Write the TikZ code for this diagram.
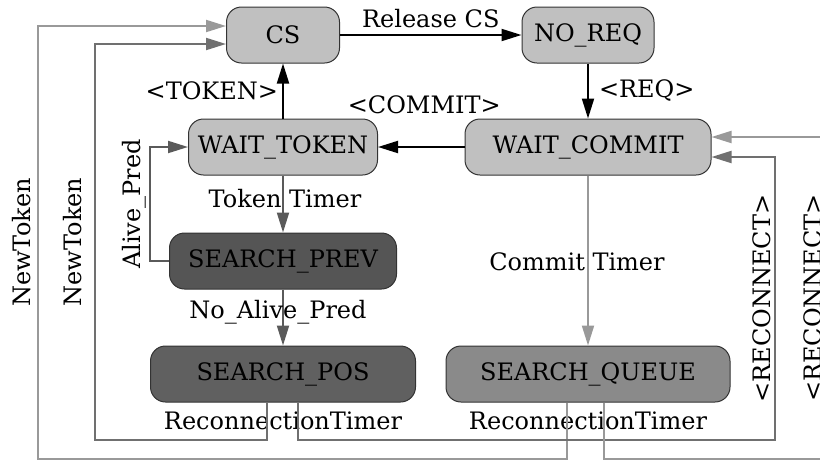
\documentclass[tikz,border=0pt]{standalone}
\usepackage{fontspec}
\setmainfont{DejaVu Serif}
\usetikzlibrary{arrows.meta,positioning}

\definecolor{stlight}{HTML}{C0C0C0}
\definecolor{stprev}{HTML}{555555}
\definecolor{stpos}{HTML}{606060}
\definecolor{stqueue}{HTML}{8A8A8A}
\definecolor{trdark}{HTML}{5A5A5A}
\definecolor{trmid}{HTML}{707070}
\definecolor{trlight}{HTML}{999999}

\begin{document}
\begin{tikzpicture}[x=1pt, y=-1pt,
  state/.style={rectangle, draw=black!80, line width=1pt, rounded corners=15pt,
    minimum height=56pt, inner sep=0pt, font=\fontsize{24}{28}\selectfont},
  lbl/.style={font=\fontsize{24}{28}\selectfont, text=black, inner sep=2pt},
  vlbl/.style={lbl, pos=0.25, rotate=90, above},
  trans/.style={line width=2pt, -{Triangle[length=20pt, width=12pt]}}]

\useasboundingbox (0,0) rectangle (820,464);
\clip (0,0) rectangle (820,464);

% states
\node[state, fill=stlight, minimum width=113pt] (cs) at (283,35) {CS};
\node[state, fill=stlight, minimum width=132pt] (noreq) at (588,35) {NO\_REQ};
\node[state, fill=stlight, minimum width=189pt] (waittoken) at (283,147) {WAIT\_TOKEN};
\node[state, fill=stlight, minimum width=246pt] (waitcommit) at (588,147) {WAIT\_COMMIT};
\node[state, fill=stprev, minimum width=227pt] (searchprev) at (283,261) {SEARCH\_PREV};
\node[state, fill=stpos, minimum width=265pt] (searchpos) at (283,374) {SEARCH\_POS};
\node[state, fill=stqueue, minimum width=284pt] (searchqueue) at (588,374) {SEARCH\_QUEUE};

\node[lbl, below=7pt of searchpos] (rtpos) {ReconnectionTimer};
\node[lbl, below=7pt of searchqueue] (rtqueue) {ReconnectionTimer};

% bends of the long loops
\coordinate (apbend) at (150,261);
\coordinate (ntinner) at (95,440);
\coordinate (ntouter) at (38,459);
\coordinate (rcinner) at (775,440);
\coordinate (rcouter) at (826,459);

% request / token cycle
\draw[trans] (cs) -- node[lbl, above=4pt] (relcs) {Release CS} (noreq);
\draw[trans] (noreq) -- node[lbl, right=8pt] (req) {<REQ>} (waitcommit);
\draw[trans] (waitcommit) -- node[lbl, above=30pt, xshift=3pt] (commit) {<COMMIT>} (waittoken);
\draw[trans] (waittoken) -- node[lbl, left=2pt] (token) {<TOKEN>} (cs);

% timers
\draw[trans, trdark] (waittoken) -- node[lbl, pos=0.4, xshift=2pt] (tt) {Token Timer} (searchprev);
\draw[trans, trdark] (searchprev) -- node[lbl, pos=0.4, xshift=-5pt] (nap) {No\_Alive\_Pred} (searchpos);
\draw[trans, trlight] (waitcommit) -- node[lbl, pos=0.51, xshift=-11pt] (ct) {Commit Timer} (searchqueue);
\draw[trans, trdark] (searchprev.west) -- (apbend) |- node[vlbl, yshift=1pt] (ap) {Alive\_Pred} (waittoken.west);

% reconnection (node shifts act in the turned frame: yshift moves left)
\draw[trans, trmid] ([xshift=-16pt]searchpos.south) |- (ntinner)
  |- node[vlbl, yshift=10pt] (ntin) {NewToken} ([yshift=-9pt]cs.west);
\draw[trans, trlight] ([xshift=-21pt]searchqueue.south) |- (ntouter)
  |- node[vlbl, yshift=4pt] (ntout) {NewToken} ([yshift=9pt]cs.west);
\draw[trans, trmid] ([xshift=15pt]searchpos.south) |- (rcinner)
  |- node[vlbl, yshift=1pt] (rcin) {<RECONNECT>} ([yshift=-10pt]waitcommit.east);
\draw[trans, trlight] ([xshift=16pt]searchqueue.south) |- (rcouter)
  |- node[vlbl, yshift=1pt] (rcout) {<RECONNECT>} ([yshift=10pt]waitcommit.east);
\end{tikzpicture}
\end{document}
